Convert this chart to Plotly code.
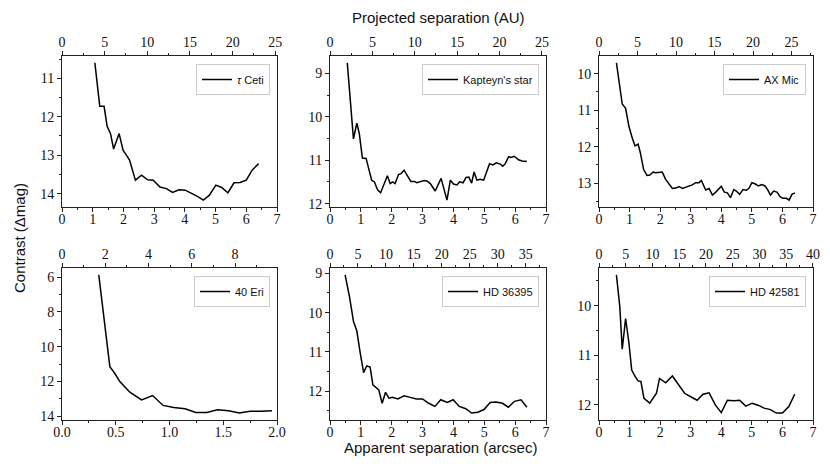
import plotly.graph_objects as go

# ---------------- data ----------------
names = ["<i>τ</i> Ceti", "Kapteyn's star", "AX Mic", "40 Eri", "HD 36395", "HD 42581"]

tau_ceti_sep = [1.07, 1.23, 1.37, 1.47, 1.58, 1.68, 1.86, 1.99, 2.08, 2.20, 2.39, 2.59, 2.79, 2.97,
                3.19, 3.40, 3.60, 3.81, 4.01, 4.20, 4.41, 4.60, 4.80, 5.01, 5.20, 5.40, 5.60, 5.80,
                6.00, 6.19, 6.40]
tau_ceti_con = [10.60, 11.73, 11.73, 12.25, 12.44, 12.84, 12.44, 12.88, 12.98, 13.13, 13.65, 13.52,
                13.64, 13.65, 13.83, 13.87, 13.97, 13.90, 13.91, 13.98, 14.07, 14.17, 14.04, 13.78,
                13.84, 13.98, 13.72, 13.71, 13.65, 13.39, 13.22]

kapteyn_sep = [0.56, 0.76, 0.87, 0.95, 1.05, 1.17, 1.35, 1.44, 1.54, 1.64, 1.86, 1.95, 2.03, 2.11,
               2.22, 2.30, 2.40, 2.62, 2.73, 2.81, 3.05, 3.14, 3.25, 3.41, 3.60, 3.79, 3.90, 4.00,
               4.11, 4.20, 4.31, 4.41, 4.50, 4.59, 4.67, 4.76, 4.87, 4.98, 5.17, 5.28, 5.39, 5.52,
               5.60, 5.68, 5.79, 5.86, 5.97, 6.11, 6.22, 6.38]
kapteyn_con = [8.76, 10.51, 10.15, 10.39, 10.95, 10.96, 11.46, 11.50, 11.68, 11.75, 11.36, 11.54,
               11.50, 11.54, 11.33, 11.31, 11.23, 11.49, 11.49, 11.52, 11.47, 11.48, 11.54, 11.71,
               11.42, 11.92, 11.46, 11.55, 11.57, 11.50, 11.52, 11.40, 11.39, 11.53, 11.27, 11.46,
               11.44, 11.46, 11.08, 11.11, 11.06, 11.09, 11.14, 11.08, 10.92, 10.94, 10.91, 10.99,
               11.02, 11.03]

ax_mic_sep = [0.57, 0.76, 0.87, 0.98, 1.09, 1.18, 1.28, 1.35, 1.46, 1.57, 1.66, 1.77, 1.85, 1.96,
              2.07, 2.18, 2.29, 2.40, 2.51, 2.62, 2.73, 2.84, 2.94, 3.05, 3.16, 3.27, 3.35, 3.49,
              3.60, 3.71, 3.82, 4.00, 4.10, 4.20, 4.30, 4.41, 4.49, 4.60, 4.71, 4.82, 4.91, 5.00,
              5.10, 5.21, 5.32, 5.43, 5.52, 5.61, 5.71, 5.82, 5.93, 6.02, 6.13, 6.22, 6.31, 6.41]
ax_mic_con = [9.70, 10.83, 10.95, 11.45, 11.77, 11.98, 11.93, 12.16, 12.63, 12.79, 12.78, 12.70,
              12.72, 12.70, 12.70, 12.90, 13.02, 13.15, 13.14, 13.10, 13.15, 13.12, 13.09, 13.05,
              12.99, 12.99, 12.93, 13.19, 13.15, 13.33, 13.25, 13.09, 13.25, 13.27, 13.40, 13.18,
              13.22, 13.31, 13.18, 13.20, 13.14, 12.99, 13.02, 13.08, 13.04, 13.08, 13.19, 13.33,
              13.22, 13.25, 13.38, 13.42, 13.42, 13.47, 13.31, 13.27]

eri40_sep = [0.342, 0.445, 0.49, 0.538, 0.631, 0.74, 0.843, 0.94, 1.04, 1.145, 1.244, 1.347,
             1.446, 1.549, 1.649, 1.75, 1.85, 1.953]
eri40_con = [5.87, 11.14, 11.52, 12.00, 12.61, 13.05, 12.80, 13.37, 13.49, 13.56, 13.77, 13.77,
             13.62, 13.68, 13.81, 13.71, 13.71, 13.68]

hd36395_sep = [0.49, 0.63, 0.76, 0.87, 0.98, 1.09, 1.19, 1.30, 1.39, 1.58, 1.69, 1.80, 1.91, 2.02,
               2.20, 2.40, 2.60, 2.80, 3.00, 3.20, 3.40, 3.59, 3.80, 3.99, 4.19, 4.40, 4.59, 4.79,
               4.99, 5.19, 5.38, 5.59, 5.78, 5.98, 6.19, 6.38]
hd36395_con = [9.04, 9.59, 10.22, 10.47, 11.03, 11.53, 11.36, 11.39, 11.84, 11.97, 12.31, 12.03,
               12.18, 12.16, 12.20, 12.12, 12.16, 12.20, 12.20, 12.31, 12.39, 12.22, 12.29, 12.22,
               12.39, 12.45, 12.56, 12.54, 12.47, 12.29, 12.28, 12.31, 12.41, 12.26, 12.22, 12.41]

hd42581_sep = [0.57, 0.68, 0.76, 0.87, 0.98, 1.07, 1.18, 1.28, 1.37, 1.47, 1.66, 1.88, 1.98, 2.18,
               2.40, 2.58, 2.80, 3.00, 3.21, 3.40, 3.60, 3.81, 4.00, 4.20, 4.41, 4.60, 4.80, 5.01,
               5.20, 5.40, 5.61, 5.80, 6.00, 6.21, 6.40]
hd42581_con = [9.38, 10.02, 10.88, 10.26, 10.76, 11.30, 11.43, 11.52, 11.53, 11.87, 11.97, 11.77,
               11.47, 11.56, 11.42, 11.57, 11.77, 11.84, 11.91, 11.79, 11.76, 12.01, 12.16, 11.91,
               11.92, 11.91, 12.03, 11.97, 12.01, 12.07, 12.10, 12.17, 12.17, 12.04, 11.79]

separations = [tau_ceti_sep, kapteyn_sep, ax_mic_sep, eri40_sep, hd36395_sep, hd42581_sep]
contrasts = [tau_ceti_con, kapteyn_con, ax_mic_con, eri40_con, hd36395_con, hd42581_con]

# distance (pc) used for the top AU axis, and arcsec axis limits
dist_pc = [3.60, 3.64, 3.97, 4.97, 5.52, 5.715]
arcsec_max = [7, 7, 7, 2, 7, 7]
arcsec_dtick = [1, 1, 1, 0.5, 1, 1]
au_dtick = [5, 5, 5, 2, 5, 5]
mag_dtick = [1, 1, 1, 2, 1, 1]

# ---------------- layout ----------------
W, H = 830, 467
col_px = [(62, 277), (330, 546), (599, 813)]
row_px = [(56, 207), (268, 420)]

tick_font = dict(family="Liberation Serif", size=14, color="#111")
label_font = dict(family="Liberation Sans", size=15, color="#111")
line_col = "#222"

fig = go.Figure()
layout = dict(width=W, height=H, margin=dict(l=0, r=0, t=0, b=0, autoexpand=False),
              plot_bgcolor="white", paper_bgcolor="white", showlegend=True)

for i in range(6):
    r, c = divmod(i, 3)
    x0, x1 = col_px[c]
    ytop, ybot = row_px[r]
    xd = [x0 / W, x1 / W]
    yd = [1 - ybot / H, 1 - ytop / H]
    n = i + 1
    xa = "xaxis" if n == 1 else f"xaxis{n}"
    ya = "yaxis" if n == 1 else f"yaxis{n}"
    xref = "x" if n == 1 else f"x{n}"
    yref = "y" if n == 1 else f"y{n}"
    leg = "legend" if n == 1 else f"legend{n}"

    cmin, cmax = min(contrasts[i]), max(contrasts[i])
    pad = 0.05 * (cmax - cmin)

    fig.add_trace(go.Scatter(x=separations[i], y=contrasts[i], mode="lines",
                             line=dict(color="black", width=1.5), name=names[i],
                             xaxis=xref, yaxis=yref, legend=leg))

    common = dict(showline=True, linecolor=line_col, linewidth=1, ticks="outside",
                  ticklen=4, tickwidth=1, tickcolor=line_col, showgrid=False,
                  zeroline=False, tickfont=tick_font, automargin=False)
    layout[xa] = dict(domain=xd, anchor=yref, range=[0, arcsec_max[i]], dtick=arcsec_dtick[i],
                      tick0=0, tickformat=".1f" if arcsec_dtick[i] < 1 else "d",
                      ticklabelstandoff=-5,
                      minor=dict(dtick=arcsec_dtick[i] / 2, ticklen=2, tickcolor=line_col,
                                 ticks="outside"),
                      **common)
    layout[ya] = dict(domain=yd, anchor=xref, range=[cmax + pad, cmin - pad],
                      dtick=mag_dtick[i], tick0=0, mirror=True,
                      minor=dict(dtick=mag_dtick[i] / 2, ticklen=2, tickcolor=line_col,
                                 ticks="outside"),
                      **common)
    # top axis in AU
    ta = f"xaxis{n + 6}"
    layout[ta] = dict(overlaying=xref, side="top", anchor=yref,
                      range=[0, arcsec_max[i] * dist_pc[i]], dtick=au_dtick[i], tick0=0,
                      ticklabelstandoff=-2,
                      minor=dict(dtick=au_dtick[i] / 2, ticklen=2, tickcolor=line_col,
                                 ticks="outside"),
                      **common)
    # invisible helper so the top axis is drawn
    fig.add_trace(go.Scatter(x=[None], y=[None], xaxis=f"x{n + 6}", yaxis=yref,
                             showlegend=False, hoverinfo="skip"))

    layout[leg] = dict(x=(x1 - 7) / W, y=1 - (ytop + 8) / H, xanchor="right", yanchor="top",
                       bgcolor="rgba(255,255,255,0.8)", bordercolor="#cccccc", borderwidth=1,
                       font=dict(family="Liberation Sans", size=11, color="#111"),
                       itemwidth=30, tracegroupgap=0)

fig.update_layout(**layout)

fig.add_annotation(text="Projected separation (AU)", x=438 / W, y=1 - 17 / H, xref="paper",
                   yref="paper", showarrow=False, font=label_font,
                   xanchor="center", yanchor="middle")
fig.add_annotation(text="Apparent separation (arcsec)", x=440 / W, y=1 - 447 / H, xref="paper",
                   yref="paper", showarrow=False, font=label_font,
                   xanchor="center", yanchor="middle")
fig.add_annotation(text="Contrast (Δmag)", x=20 / W, y=1 - 238 / H, xref="paper",
                   yref="paper", showarrow=False, textangle=-90, font=label_font,
                   xanchor="center", yanchor="middle")

fig.write_html("out.html", config={"displayModeBar": False},
               post_script="document.body.style.margin='0';")
